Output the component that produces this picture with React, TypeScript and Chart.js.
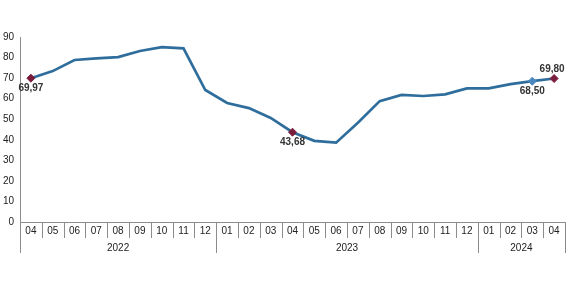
import React, { useEffect, useRef } from "react";
import { Chart, registerables } from "chart.js";

Chart.register(...registerables);

const months = ["04","05","06","07","08","09","10","11","12","01","02","03","04","05","06","07","08","09","10","11","12","01","02","03","04"];
const values = [69.97,73.4,78.8,79.6,80.2,83.2,85.1,84.5,64.2,57.9,55.4,50.6,43.68,39.5,38.6,48.3,58.8,61.8,61.3,62.1,65.0,65.0,67.1,68.5,69.8];
const yearLabels = ["2022","2023","2024"];
const yearSpans = [9,12,4];
const yTicks = [0,10,20,30,40,50,60,70,80,90];
const labelledPoints = [0,12,23,24];
const labelTexts = ["69,97","43,68","68,50","69,80"];
const labelPlacement = ["below","below","below","above"];
const redPoints = [0,12,24];
const bluePoints = [23];

const FONT = "'Liberation Sans', Arial, sans-serif";

export default function App() {
  const ref = useRef<HTMLCanvasElement>(null);
  useEffect(() => {
    if (!ref.current) return;
    const pointColors = values.map((_, i) => redPoints.includes(i) ? "#7a1c3c" : bluePoints.includes(i) ? "#4a86bf" : "rgba(0,0,0,0)");
    const pointRadius = values.map((_, i) => (redPoints.includes(i) || bluePoints.includes(i)) ? 4 : 0);

    const overlay = {
      id: "overlay",
      afterDraw(chart: any) {
        const ctx = chart.ctx;
        const xs = chart.scales.x;
        const ys = chart.scales.y;
        const n = months.length;
        const w = (xs.right - xs.left) / n;
        const bottom = ys.bottom;
        ctx.save();
        ctx.strokeStyle = "#8c8c8c";
        ctx.lineWidth = 1;
        const yearBounds: number[] = [0];
        let acc = 0;
        yearSpans.forEach((s) => { acc += s; yearBounds.push(acc); });
        for (let i = 1; i <= n; i++) {
          const x = Math.round(xs.left + i * w) + 0.5;
          const isYear = yearBounds.includes(i);
          ctx.beginPath();
          ctx.moveTo(x, bottom);
          ctx.lineTo(x, bottom + (isYear ? 31 : 16));
          ctx.stroke();
        }
        const x0 = Math.round(xs.left) + 0.5;
        ctx.beginPath();
        ctx.moveTo(x0, bottom);
        ctx.lineTo(x0, bottom + 31);
        ctx.stroke();
        ctx.fillStyle = "#222";
        ctx.font = `10px ${FONT}`;
        ctx.textAlign = "center";
        ctx.textBaseline = "middle";
        yearLabels.forEach((lbl, k) => {
          const a = xs.left + yearBounds[k] * w;
          const b = xs.left + yearBounds[k + 1] * w;
          ctx.fillText(lbl, (a + b) / 2, bottom + 26);
        });
        ctx.font = `bold 10px ${FONT}`;
        ctx.fillStyle = "#333";
        labelledPoints.forEach((idx, k) => {
          const px = xs.getPixelForValue(idx);
          const py = ys.getPixelForValue(values[idx]);
          const pl = labelPlacement[k];
          let tx = px, ty = py;
          if (pl === "below") { tx = px; ty = py + 10; }
          else if (pl === "above") { tx = px - 2; ty = py - 9; }
          ctx.fillText(labelTexts[k], tx, ty);
        });
        ctx.restore();
      },
    };

    const chart = new Chart(ref.current, {
      type: "line",
      data: {
        labels: months,
        datasets: [{
          data: values,
          borderColor: "#2f6e9c",
          borderWidth: 2.7,
          tension: 0,
          pointStyle: "rectRot",
          pointRadius: pointRadius,
          pointHoverRadius: pointRadius,
          pointBackgroundColor: pointColors,
          pointBorderColor: pointColors,
          pointBorderWidth: 1,
        }],
      },
      options: {
        animation: false,
        responsive: false,
        maintainAspectRatio: false,
        events: [],
        layout: { padding: { top: 37, right: 3, left: 0, bottom: 0 } },
        plugins: { legend: { display: false }, tooltip: { enabled: false } },
        scales: {
          x: {
            type: "category",
            offset: true,
            grid: { display: false, drawTicks: false, offset: true },
            border: { display: true, color: "#8c8c8c" },
            ticks: { color: "#222", font: { family: FONT, size: 10 }, padding: 3, maxRotation: 0, autoSkip: false },
            afterFit: (s: any) => { s.height = 63; },
          },
          y: {
            min: 0,
            max: 90,
            afterBuildTicks: (s: any) => { s.ticks = yTicks.map((v) => ({ value: v })); },
            grid: { display: false, drawTicks: false },
            border: { display: true, color: "#8c8c8c" },
            ticks: { color: "#222", font: { family: FONT, size: 10 }, padding: 6 },
            afterFit: (s: any) => { s.width = 20; },
          },
        },
      },
      plugins: [overlay],
    });
    return () => chart.destroy();
  }, []);
  return (
    <div style={{ position: "absolute", left: 0, top: 0, width: 570, height: 285, background: "#fff" }}>
      <canvas ref={ref} width={570} height={285} style={{ width: 570, height: 285 }} />
    </div>
  );
}
